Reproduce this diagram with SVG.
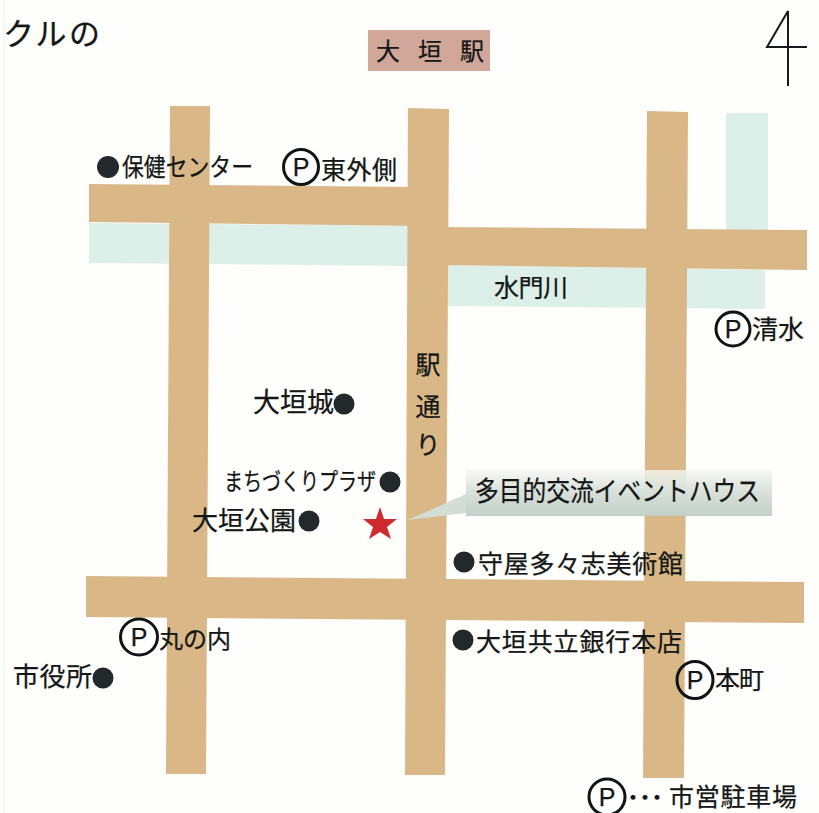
<svg xmlns="http://www.w3.org/2000/svg" width="819" height="813" viewBox="0 0 819 813">
<style>
text{font-family:"Noto Sans CJK JP","Noto Sans",sans-serif;fill:#141716;font-size:25px;stroke:#141716;stroke-width:.25}
.road{fill:#d9b787}
.river{fill:#dcefe8}
.dot{fill:#23282a}
.p{fill:#fff;fill-opacity:0;stroke:#101415;stroke-width:3}
.pt{font-family:"Liberation Sans",sans-serif;font-size:25px;text-anchor:middle}
</style>
<defs>
<linearGradient id="cg" x1="0" y1="0" x2="0" y2="1"><stop offset="0" stop-color="#f4f6f1" stop-opacity=".8"/><stop offset=".45" stop-color="#d9e1da"/><stop offset="1" stop-color="#c3d0c8"/></linearGradient>
</defs>
<rect width="819" height="813" fill="#fefefc"/>
<line x1="4" y1="0" x2="4" y2="813" stroke="#f0efe8" stroke-width="1"/>
<g id="rivers">
<polygon class="river" points="89,223 408,226 408,266 89,263"/>
<polygon class="river" points="446,265 765,270 765,309 446,306"/>
<rect class="river" x="726" y="113" width="42" height="118"/>
</g>
<g id="roads">
<polygon class="road" points="170,106 210,106 206,774 166,774"/>
<polygon class="road" points="408,108 449,109 445,775 405,775"/>
<polygon class="road" points="647,111 688,112 684,778 643,778"/>
<polygon class="road" points="89,184 420,187 420,226 89,222"/>
<polygon class="road" points="440,227 807,230 807,270 440,265"/>
<polygon class="road" points="86,576 804,582 804,623 86,617"/>
</g>
<g id="station"><rect x="368" y="30" width="122" height="41" fill="#d1a799"/><text x="376" y="60" style="font-size:24px;letter-spacing:18px">大垣駅</text></g>
<g id="title"><text x="3" y="45" textLength="97" style="font-size:31px">クルの</text></g>
<g id="north"><path d="M788 11 L767 47 L807 47 M788 11 V86" fill="none" stroke="#15191a" stroke-width="2"/></g>
<g id="hoken"><circle class="dot" cx="108" cy="167" r="11"/><text x="122" y="176" textLength="131" lengthAdjust="spacingAndGlyphs">保健センター</text></g>
<g id="p-higashi"><circle class="p" cx="301" cy="167" r="17.5"/><text class="pt" x="301" y="176">P</text><text x="321" y="179" textLength="76">東外側</text></g>
<g id="suimon"><text x="494" y="297" textLength="74">水門川</text></g>
<g id="p-shimizu"><circle class="p" cx="733" cy="329" r="17"/><text class="pt" x="733" y="338">P</text><text x="752" y="339" textLength="52" style="font-size:26px">清水</text></g>
<g id="ekidori"><text x="428" y="374" text-anchor="middle">駅</text><text x="428" y="416" text-anchor="middle">通</text><text x="428" y="454" text-anchor="middle">り</text></g>
<g id="ogakijo"><text x="253" y="412" textLength="81" style="font-size:27px">大垣城</text><circle class="dot" cx="344" cy="404" r="10.5"/></g>
<g id="plaza"><text x="224" y="490" textLength="152" lengthAdjust="spacingAndGlyphs" style="font-size:24px">まちづくりプラザ</text><circle class="dot" cx="390" cy="482" r="10.5"/></g>
<g id="koen"><text x="192" y="530" textLength="104" style="font-size:26px">大垣公園</text><circle class="dot" cx="309" cy="521" r="10.5"/></g>
<g id="house">
<polygon points="408,520 466,494 466,513" fill="#d3ddd6"/>
<rect x="466" y="470" width="306" height="46" fill="url(#cg)"/>
<polygon points="380,507 384,519 397,519 387,527 391,539 380,532 369,539 373,527 363,519 376,519" fill="#cf2a2e"/>
<text x="475" y="501" textLength="285" lengthAdjust="spacingAndGlyphs" style="font-size:27px">多目的交流イベントハウス</text>
</g>
<g id="moriya"><circle class="dot" cx="464" cy="562" r="10.5"/><text x="478" y="573" textLength="205">守屋多々志美術館</text></g>
<g id="p-marunouchi"><ellipse class="p" cx="139" cy="637" rx="18.5" ry="18"/><text class="pt" x="139" y="646">P</text><text x="159" y="648" textLength="72" style="font-size:24px">丸の内</text></g>
<g id="shiyakusho"><text x="13" y="686" textLength="79" style="font-size:26px">市役所</text><circle class="dot" cx="103" cy="678" r="10.5"/></g>
<g id="kyoritsu"><circle class="dot" cx="463" cy="640" r="10.5"/><text x="476" y="651" textLength="206">大垣共立銀行本店</text></g>
<g id="p-honmachi"><ellipse class="p" cx="695" cy="680" rx="18" ry="18.5"/><text class="pt" x="695" y="689">P</text><text x="715" y="689" textLength="49">本町</text></g>
<g id="legend"><ellipse class="p" cx="607" cy="797" rx="18" ry="18"/><text class="pt" x="607" y="806">P</text><text x="627" y="806" style="font-size:24px;font-weight:700">･･･</text><text x="669" y="806" textLength="128">市営駐車場</text></g>
</svg>
